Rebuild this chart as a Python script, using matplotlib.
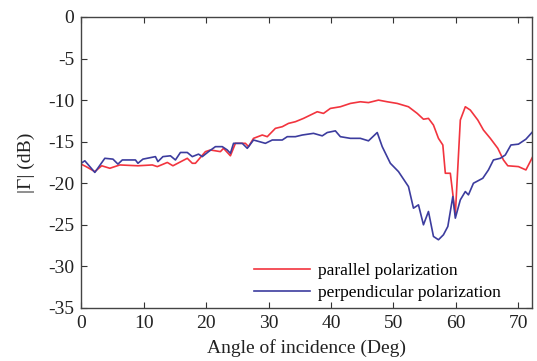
import matplotlib
matplotlib.use("Agg")
import matplotlib.pyplot as plt

# parallel polarization (angle deg, |Gamma| dB)
par_angle = [0.0, 0.8, 2.2, 3.3, 4.6, 6.2, 9.1, 11.4, 12.2, 13.8, 14.7, 17.0, 17.8, 18.3,
             19.9, 20.7, 22.3, 22.8, 23.9, 24.7, 26.3, 26.8, 27.6, 29.0, 29.8, 31.1,
             32.2, 33.2, 34.3, 35.6, 36.7, 37.8, 38.8, 39.9, 41.5, 43.1, 44.7, 46.0,
             47.6, 49.0, 50.6, 52.4, 53.8, 54.8, 55.6, 56.4, 57.2, 57.9, 58.3, 59.1,
             59.9, 60.7, 61.5, 62.3, 63.5, 64.4, 65.5, 66.7, 67.6, 68.3, 70.0, 71.2, 72.3]
par_db = [-17.7, -18.0, -18.6, -17.9, -18.2, -17.8, -17.9, -17.8, -18.0, -17.5, -17.9, -17.0, -17.6, -17.6,
          -16.2, -16.0, -16.2, -15.8, -16.7, -15.2, -15.2, -15.6, -14.6, -14.2, -14.4, -13.4,
          -13.2, -12.8, -12.6, -12.2, -11.8, -11.4, -11.6, -11.0, -10.8, -10.4, -10.2, -10.3,
          -10.0, -10.2, -10.4, -10.8, -11.6, -12.3, -12.2, -13.0, -14.6, -15.4, -18.8, -18.8,
          -23.8, -12.4, -10.8, -11.2, -12.4, -13.6, -14.6, -15.8, -17.2, -17.9, -18.0, -18.4, -16.8]

# perpendicular polarization
perp_angle = [0.0, 0.6, 2.2, 3.8, 5.1, 5.9, 6.6, 8.7, 9.1, 9.9, 11.9, 12.3, 13.1, 14.3, 15.1,
              15.9, 17.0, 17.8, 18.8, 19.4, 20.4, 21.5, 22.6, 23.4, 23.9, 24.4, 25.8, 26.6,
              27.6, 29.5, 30.6, 32.2, 33.0, 34.3, 35.4, 37.2, 38.6, 39.4, 40.7, 41.5, 43.1,
              44.7, 46.0, 47.4, 48.2, 49.5, 50.8, 52.4, 53.2, 54.0, 54.8, 55.6, 56.4, 57.2,
              58.0, 58.7, 59.5, 59.9, 60.7, 61.5, 62.0, 62.8, 64.3, 65.2, 66.0, 67.1, 67.9,
              68.8, 70.0, 71.2, 72.4]
perp_db = [-17.6, -17.3, -18.7, -17.0, -17.1, -17.7, -17.2, -17.2, -17.6, -17.1, -16.8, -17.4, -16.8, -16.7, -17.2,
           -16.3, -16.3, -16.8, -16.5, -16.8, -16.2, -15.6, -15.6, -16.0, -16.4, -15.2, -15.2, -15.8,
           -14.8, -15.2, -14.8, -14.8, -14.4, -14.4, -14.2, -14.0, -14.3, -13.9, -13.7, -14.4, -14.6,
           -14.6, -14.9, -13.9, -15.6, -17.6, -18.6, -20.4, -23.0, -22.6, -25.0, -23.4, -26.4, -26.8,
           -26.2, -25.2, -21.6, -24.2, -22.0, -21.0, -21.4, -20.0, -19.4, -18.4, -17.2, -17.0, -16.6,
           -15.4, -15.3, -14.7, -13.7]

x_ticks = [0, 10, 20, 30, 40, 50, 60, 70]
y_ticks = [0, -5, -10, -15, -20, -25, -30, -35]

plt.rcParams['font.family'] = ['Liberation Serif', 'DejaVu Serif']

fig = plt.figure(figsize=(5.37, 3.61), dpi=100)
ax = fig.add_axes([0.151, 0.147, 0.840, 0.806])

ax.plot(par_angle, par_db, color='#f2343e', lw=1.2, label='parallel polarization')
ax.plot(perp_angle, perp_db, color='#3c3c9e', lw=1.2, label='perpendicular polarization')

ax.set_xlim(0, 72.2)
ax.set_ylim(-35, 0)
ax.set_xticks(x_ticks)
ax.set_yticks(y_ticks)
ax.set_yticklabels([str(v) for v in y_ticks])
ax.tick_params(direction='in', top=True, right=True, labelsize=14, length=4,
               width=0.8, colors='#333333', labelcolor='#222222', pad=5)
for s in ax.spines.values():
    s.set_color('#444444')
    s.set_linewidth(1.0)

ax.set_xlabel('Angle of incidence (Deg)', fontsize=14, color='#222222', labelpad=5)
ax.set_ylabel('|Γ| (dB)', fontsize=14, color='#222222', labelpad=9)

leg = ax.legend(loc='lower right', frameon=False, fontsize=12.5, handlelength=3.2,
                handletextpad=0.45, labelspacing=0.35, borderaxespad=0.0,
                bbox_to_anchor=(0.945, 0.0))

fig.savefig('out.png', dpi=100)
